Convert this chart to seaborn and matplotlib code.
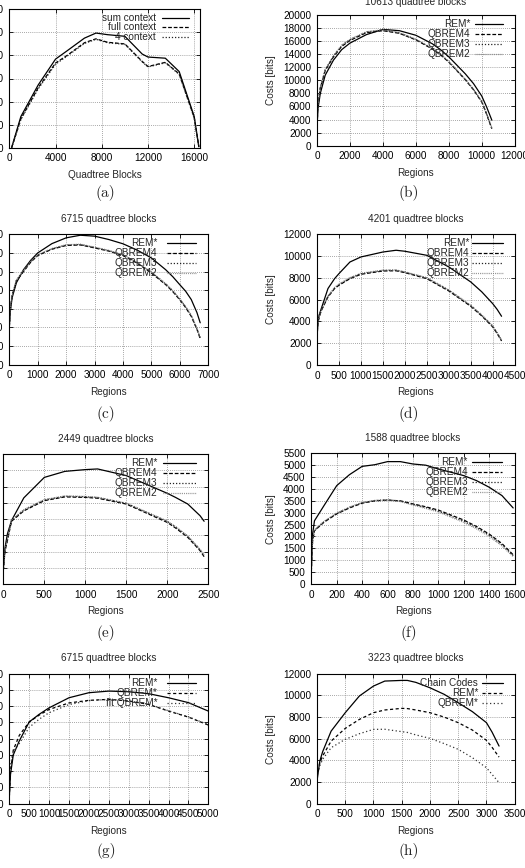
import numpy as np
import pandas as pd
import matplotlib
matplotlib.use("Agg")
import matplotlib.pyplot as plt
from matplotlib.lines import Line2D
from matplotlib.transforms import ScaledTranslation
import seaborn as sns

sns.set_style("ticks")
plt.rcParams['font.family'] = ['Liberation Sans', 'DejaVu Sans']
plt.rcParams['axes.linewidth'] = 0.8

# ---------------- data ----------------
# (a)
a_x = [200, 1000, 2500, 4000, 5000, 6500, 7500, 8500, 10000, 11500, 12000, 13500, 14700, 16000, 16400]
a_sum = [0, 6750, 13600, 19200, 21000, 23750, 24850, 24500, 24150, 20300, 19650, 19400, 16500, 6750, 200]
a_full = [0, 6250, 13000, 18350, 20000, 22750, 23600, 22850, 22500, 18700, 17600, 18500, 16000, 6500, 200]
a_four = [0, 6100, 12750, 18100, 19850, 22600, 23500, 22750, 22400, 18600, 17500, 18400, 15900, 6400, 200]
a_labels = ["sum context", "full context", "4 context"]

# (b)
b_x = [0, 50, 200, 500, 1000, 1500, 2000, 3000, 4000, 5000, 6000, 7000, 7500, 8000, 9000, 9500, 10000, 10300, 10613]
b_rem = [2500, 5500, 8000, 10800, 13100, 14700, 15700, 17000, 17800, 17600, 16900, 15600, 14700, 13600, 11000, 9500, 7600, 5900, 3900]
b_q4 = [2500, 6000, 8800, 11500, 13600, 15200, 16100, 17300, 17600, 17200, 16200, 14800, 13900, 12800, 10100, 8550, 6700, 4800, 2600]
b_q3 = [2500, 6100, 8900, 11600, 13700, 15300, 16200, 17400, 17700, 17250, 16250, 14850, 13950, 12850, 10150, 8600, 6750, 4850, 2650]
b_q2 = [2500, 6200, 9000, 11700, 13800, 15400, 16300, 17450, 17750, 17300, 16300, 14900, 14000, 12900, 10200, 8650, 6800, 4900, 2700]

# (c)
c_x = [0, 30, 100, 250, 500, 750, 1000, 1500, 2000, 2500, 3000, 3500, 4000, 4500, 5000, 5500, 5750, 6000, 6200, 6400, 6600, 6715]
c_rem = [4000, 5600, 7200, 8800, 10200, 11200, 12000, 13000, 13620, 13900, 13800, 13440, 12980, 12300, 11460, 10200, 9450, 8580, 7900, 7000, 5600, 4500]
c_q4 = [4000, 5800, 7400, 9000, 10000, 11000, 11720, 12400, 12800, 12860, 12540, 12200, 11720, 10900, 9840, 8600, 7850, 6960, 6150, 5200, 3800, 2800]
c_q3 = [4000, 5850, 7450, 9050, 10050, 11050, 11760, 12440, 12840, 12900, 12580, 12240, 11760, 10950, 9900, 8660, 7910, 7020, 6210, 5260, 3860, 2860]
c_q2 = [4000, 5900, 7500, 9100, 10100, 11100, 11800, 12480, 12880, 12940, 12620, 12280, 11800, 11000, 9950, 8720, 7970, 7080, 6270, 5320, 3920, 2920]

# (d)
d_x = [0, 20, 50, 100, 250, 400, 500, 750, 1000, 1500, 1800, 2000, 2500, 3000, 3500, 3750, 4000, 4100, 4201]
d_rem = [2500, 4000, 4600, 5200, 7000, 7900, 8360, 9420, 9880, 10330, 10490, 10400, 10030, 8970, 7600, 6700, 5620, 5100, 4470]
d_q4 = [2500, 3800, 4400, 5000, 6230, 7000, 7300, 7900, 8300, 8600, 8620, 8450, 7900, 6780, 5380, 4500, 3500, 2900, 2220]
d_q3 = [2500, 3850, 4450, 5050, 6280, 7050, 7350, 7950, 8350, 8650, 8670, 8500, 7960, 6840, 5440, 4560, 3560, 2960, 2280]
d_q2 = [2500, 3900, 4500, 5100, 6330, 7100, 7400, 8000, 8400, 8680, 8690, 8520, 8000, 6880, 5480, 4600, 3600, 3000, 2320]

# (e)
e_x = [0, 20, 50, 100, 250, 500, 750, 1000, 1150, 1500, 2000, 2100, 2250, 2400, 2449]
e_rem = [1000, 2200, 3080, 3900, 5300, 6560, 6930, 7040, 7080, 6670, 5580, 5330, 4920, 4200, 3860]
e_q4 = [800, 2000, 2670, 3860, 4500, 5130, 5360, 5330, 5280, 4920, 3790, 3450, 2870, 2050, 1680]
e_q3 = [800, 2050, 2720, 3900, 4540, 5170, 5400, 5370, 5320, 4960, 3850, 3510, 2930, 2110, 1740]
e_q2 = [800, 2100, 2770, 3940, 4580, 5200, 5420, 5390, 5340, 4980, 3880, 3540, 2960, 2140, 1780]

# (f)
f_x = [0, 10, 25, 100, 200, 300, 400, 500, 600, 700, 800, 900, 1000, 1200, 1300, 1400, 1500, 1588]
f_rem = [700, 2100, 2660, 3300, 4140, 4600, 4950, 5020, 5150, 5150, 5050, 5000, 4840, 4560, 4350, 4070, 3720, 3200]
f_q4 = [500, 1800, 2240, 2600, 2950, 3200, 3400, 3500, 3530, 3500, 3370, 3250, 3110, 2690, 2420, 2100, 1700, 1230]
f_q3 = [500, 1820, 2260, 2620, 2970, 3220, 3420, 3510, 3540, 3490, 3350, 3220, 3070, 2640, 2370, 2050, 1650, 1190]
f_q2 = [500, 1840, 2280, 2640, 2990, 3240, 3430, 3520, 3530, 3470, 3320, 3180, 3030, 2590, 2320, 2000, 1600, 1150]

# (g)
g_x = [0, 30, 100, 250, 500, 750, 1000, 1500, 2000, 2500, 3000, 3500, 4000, 4500, 5000]
g_rem = [740, 3600, 6000, 7720, 10060, 11000, 11800, 13040, 13660, 13860, 13780, 13540, 13040, 12440, 11400]
g_qb = [800, 4000, 6600, 8400, 10060, 10900, 11600, 12400, 12720, 12840, 12640, 12220, 11400, 10660, 9680]
g_fit = [3000, 4800, 6400, 7400, 9400, 10400, 11200, 12200, 12680, 12840, 12660, 12240, 11440, 10700, 9720]

# (h)
h_x = [0, 50, 100, 250, 500, 750, 1000, 1200, 1500, 1600, 1750, 2000, 2250, 2500, 2750, 3000, 3100, 3223]
h_chain = [2100, 3940, 4800, 6700, 8400, 9940, 10860, 11320, 11380, 11380, 11200, 10700, 10100, 9320, 8500, 7480, 6600, 5320]
h_rem = [2500, 3800, 4400, 5780, 6950, 7780, 8400, 8650, 8800, 8780, 8650, 8400, 8000, 7480, 6800, 5850, 5200, 4300]
h_qb = [2500, 3500, 4100, 5170, 5940, 6460, 6860, 6870, 6650, 6580, 6350, 6030, 5550, 5020, 4250, 3320, 2700, 1940]

rem_labels = ["REM*", "QBREM4", "QBREM3", "QBREM2"]
g_labels = ["REM*", "QBREM*", "fit QBREM*"]
h_labels = ["Chain Codes", "REM*", "QBREM*"]

titles = ["", "10613 quadtree blocks", "6715 quadtree blocks", "4201 quadtree blocks",
          "2449 quadtree blocks", "1588 quadtree blocks", "6715 quadtree blocks", "3223 quadtree blocks"]
captions = ["(a)", "(b)", "(c)", "(d)", "(e)", "(f)", "(g)", "(h)"]

# ---------------- styles ----------------
S_SOLID = dict(color='black', linestyle='-', lw=0.9)
S_DASH = dict(color='black', linestyle=(0, (3, 1.5)), lw=0.9)
S_DOT = dict(color='#222222', linestyle=(0, (1, 1.5)), lw=0.9)
S_FINE = dict(color='#777777', linestyle=(0, (0.6, 0.9)), lw=0.9)

W, H = 525, 868
fig = plt.figure(figsize=(W / 100, H / 100), dpi=100)


def make_ax(l, t, r, b):
    return fig.add_axes([l / W, 1 - b / H, (r - l) / W, (b - t) / H])


def style_ax(ax, xlim, xticks, ylim, yticks, xlabel, ylabel, title, tpad):
    ax.set_xlim(*xlim)
    ax.set_ylim(*ylim)
    ax.set_xticks(xticks)
    ax.set_yticks(yticks)
    ax.tick_params(direction='in', length=3, width=0.6, top=True, right=True,
                   labelsize=7.2, pad=4, colors='black')
    ax.grid(True, color='#8a8a8a', linestyle=(0, (1, 1.5)), linewidth=0.6)
    ax.set_axisbelow(True)
    ax.set_xlabel(xlabel, fontsize=7.2, labelpad=4.5)
    ax.set_ylabel(ylabel if ylabel else "", fontsize=7.2, labelpad=5.5)
    if title:
        ax.set_title(title, fontsize=7.2, pad=tpad)
    for s in ax.spines.values():
        s.set_color('black')
        s.set_linewidth(0.8)


def draw(ax, x, ys, styles):
    for y, st in zip(ys, styles):
        df = pd.DataFrame({"x": x, "y": y})
        sns.lineplot(data=df, x="x", y="y", ax=ax, sort=False, estimator=None,
                     color=st['color'], linestyle=st['linestyle'], lw=st['lw'])
    ax.set_xlabel("")
    ax.set_ylabel("")


def key(ax, labels, styles, tx=0.77, s0=0.795, s1=0.94, y0=9, dy=10):
    for i, (lab, st) in enumerate(zip(labels, styles)):
        off = ScaledTranslation(0, -(y0 + i * dy) / 100, fig.dpi_scale_trans)
        tr = ax.transAxes + off
        ax.text(tx, 1.0, lab, transform=tr, ha='right', va='center', fontsize=7.2, zorder=5)
        ln = Line2D([s0, s1], [1.0, 1.0], transform=tr, color=st['color'],
                    linestyle=st['linestyle'], lw=st['lw'], clip_on=False, zorder=5)
        ax.add_artist(ln)


rem_styles = [S_SOLID, S_DASH, S_DOT, S_FINE]
three_styles = [S_SOLID, S_DASH, S_DOT]

# (a)
ax = make_ax(9.3, 9.3, 200, 147.7)
draw(ax, a_x, [a_sum, a_full, a_four], three_styles)
style_ax(ax, (0, 16500), [0, 4000, 8000, 12000, 16000], (0, 30000), list(range(0, 30001, 5000)),
         "Quadtree Blocks", None, "", 8)
key(ax, a_labels, three_styles, tx=0.77, s0=0.80, s1=0.94, y0=8.5, dy=9.5)

# (b)
ax = make_ax(317, 15, 514.7, 145.7)
draw(ax, b_x, [b_rem, b_q4, b_q3, b_q2], rem_styles)
style_ax(ax, (0, 12000), list(range(0, 12001, 2000)), (0, 20000), list(range(0, 20001, 2000)),
         "Regions", "Costs [bits]", titles[1], 7.2)
key(ax, rem_labels, rem_styles, tx=0.775, s0=0.80, s1=0.94)

# (c)
ax = make_ax(9.3, 234.3, 208.3, 364.7)
draw(ax, c_x, [c_rem, c_q4, c_q3, c_q2], rem_styles)
style_ax(ax, (0, 7000), list(range(0, 7001, 1000)), (0, 14000), list(range(0, 14001, 2000)),
         "Regions", None, titles[2], 8.5)
key(ax, rem_labels, rem_styles, tx=0.745, s0=0.79, s1=0.94)

# (d)
ax = make_ax(317, 233.7, 514.7, 365.3)
draw(ax, d_x, [d_rem, d_q4, d_q3, d_q2], rem_styles)
style_ax(ax, (0, 4500), list(range(0, 4501, 500)), (0, 12000), list(range(0, 12001, 2000)),
         "Regions", "Costs [bits]", titles[3], 8.5)
key(ax, rem_labels, rem_styles, tx=0.77, s0=0.785, s1=0.94)

# (e)
ax = make_ax(3.3, 454, 208.3, 584)
draw(ax, e_x, [e_rem, e_q4, e_q3, e_q2], rem_styles)
style_ax(ax, (0, 2500), list(range(0, 2501, 500)), (0, 8000), list(range(0, 8001, 1000)),
         "Regions", None, titles[4], 9)
key(ax, rem_labels, rem_styles, tx=0.75, s0=0.78, s1=0.94)

# (f)
ax = make_ax(311.3, 453.3, 514.7, 584)
draw(ax, f_x, [f_rem, f_q4, f_q3, f_q2], rem_styles)
style_ax(ax, (0, 1600), list(range(0, 1601, 200)), (0, 5500), list(range(0, 5501, 500)),
         "Regions", "Costs [bits]", titles[5], 9)
key(ax, rem_labels, rem_styles, tx=0.77, s0=0.79, s1=0.94)

# (g)
ax = make_ax(9.3, 673.7, 208.3, 803.7)
g_styles = [S_SOLID, dict(color='black', linestyle=(0, (2.5, 2)), lw=0.9),
            dict(color='#333333', linestyle=(0, (1, 2)), lw=0.9)]
draw(ax, g_x, [g_rem, g_qb, g_fit], g_styles)
style_ax(ax, (0, 5000), list(range(0, 5001, 500)), (0, 16000), list(range(0, 16001, 2000)),
         "Regions", None, titles[6], 9.5)
key(ax, g_labels, g_styles, tx=0.745, s0=0.79, s1=0.94)

# (h)
ax = make_ax(317, 673.7, 514.7, 803.7)
h_styles = [S_SOLID, dict(color='black', linestyle=(0, (2.5, 2)), lw=0.9),
            dict(color='#333333', linestyle=(0, (1, 2)), lw=0.9)]
draw(ax, h_x, [h_chain, h_rem, h_qb], h_styles)
style_ax(ax, (0, 3500), list(range(0, 3501, 500)), (0, 12000), list(range(0, 12001, 2000)),
         "Regions", "Costs [bits]", titles[7], 9.5)
key(ax, h_labels, h_styles, tx=0.815, s0=0.835, s1=0.94)

# captions
cap_pos = [(105, 193), (409, 193), (106, 414), (409, 414), (106, 633), (409, 633), (106, 851), (409, 851)]
for cap, (cx, cy) in zip(captions, cap_pos):
    fig.text(cx / W, 1 - cy / H, cap, ha='center', va='center', fontsize=11,
             family=['cmr10', 'DejaVu Serif'])

fig.savefig("out.png", dpi=100)
